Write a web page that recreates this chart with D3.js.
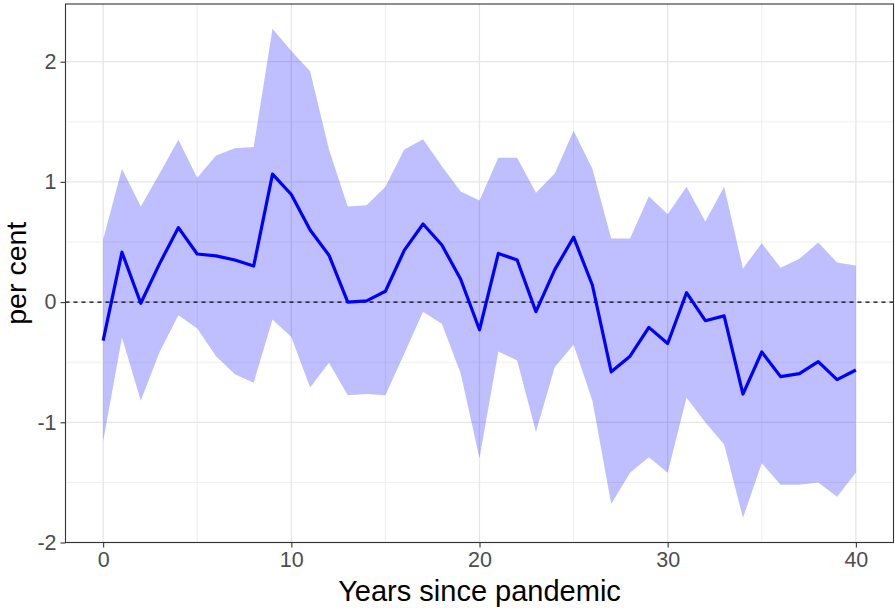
<!DOCTYPE html>
<html>
<head>
<meta charset="utf-8">
<script src="https://cdn.jsdelivr.net/npm/d3@7"></script>
<style>
  html, body { margin: 0; padding: 0; background: #fff; }
  svg { display: block; }
  text { font-family: "Liberation Sans", Arial, sans-serif; }
</style>
</head>
<body>
<svg id="chart" width="895" height="608"></svg>
<script>
const years = d3.range(0, 41);
const meanValues = [-0.32, 0.415, -0.01, 0.32, 0.62, 0.40, 0.385, 0.35, 0.30, 1.065,
  0.895, 0.60, 0.39, 0.0, 0.01, 0.09, 0.43, 0.65, 0.475, 0.19,
  -0.23, 0.405, 0.35, -0.08, 0.27, 0.54, 0.14, -0.58, -0.45, -0.21,
  -0.345, 0.078, -0.155, -0.115, -0.765, -0.415, -0.62, -0.595, -0.495, -0.645,
  -0.565];
const upperValues = [0.52, 1.11, 0.795, 1.07, 1.35, 1.035, 1.22, 1.28, 1.29, 2.275,
  2.09, 1.92, 1.27, 0.795, 0.805, 0.96, 1.27, 1.355, 1.13, 0.92,
  0.845, 1.20, 1.20, 0.91, 1.07, 1.425, 1.11, 0.53, 0.53, 0.88,
  0.73, 0.96, 0.67, 0.96, 0.28, 0.49, 0.285, 0.36, 0.495, 0.33,
  0.305];
const lowerValues = [-1.16, -0.295, -0.82, -0.415, -0.11, -0.22, -0.45, -0.60, -0.67, -0.145,
  -0.29, -0.71, -0.505, -0.775, -0.765, -0.775, -0.43, -0.08, -0.18, -0.595,
  -1.30, -0.41, -0.485, -1.08, -0.54, -0.355, -0.82, -1.68, -1.42, -1.29,
  -1.42, -0.795, -1.0, -1.185, -1.795, -1.34, -1.52, -1.52, -1.50, -1.62,
  -1.42];
const xTicks = [0, 10, 20, 30, 40];
const xMinor = [5, 15, 25, 35];
const yTicks = [-2, -1, 0, 1, 2];
const yMinor = [-1.5, -0.5, 0.5, 1.5];
const xTitle = "Years since pandemic";
const yTitle = "per cent";

const data = years.map((yr, i) => ({ year: yr, mean: meanValues[i], lo: lowerValues[i], hi: upperValues[i] }));

const svg = d3.select("#chart");
const pLeft = 65.5, pRight = 893.5, pTop = 4, pBottom = 542.5;

const x = d3.scaleLinear().domain([-2, 42]).range([pLeft, pRight]);
const y = d3.scaleLinear().domain([-2.0, 2.48]).range([pBottom, pTop]);

// panel grid
const g = svg.append("g");
g.selectAll(".xminor").data(xMinor).enter().append("line")
  .attr("x1", d => x(d)).attr("x2", d => x(d)).attr("y1", pTop).attr("y2", pBottom)
  .attr("stroke", "#ebebeb").attr("stroke-width", 0.8);
g.selectAll(".yminor").data(yMinor).enter().append("line")
  .attr("x1", pLeft).attr("x2", pRight).attr("y1", d => y(d)).attr("y2", d => y(d))
  .attr("stroke", "#ebebeb").attr("stroke-width", 0.8);
g.selectAll(".xmajor").data(xTicks).enter().append("line")
  .attr("x1", d => x(d)).attr("x2", d => x(d)).attr("y1", pTop).attr("y2", pBottom)
  .attr("stroke", "#e6e6e6").attr("stroke-width", 1.3);
g.selectAll(".ymajor").data(yTicks).enter().append("line")
  .attr("x1", pLeft).attr("x2", pRight).attr("y1", d => y(d)).attr("y2", d => y(d))
  .attr("stroke", "#e6e6e6").attr("stroke-width", 1.3);

// ribbon
const area = d3.area().x(d => x(d.year)).y0(d => y(d.lo)).y1(d => y(d.hi));
svg.append("path").datum(data).attr("d", area)
  .attr("fill", "blue").attr("fill-opacity", 0.25);

// zero dashed line
svg.append("line").attr("x1", pLeft).attr("x2", pRight).attr("y1", y(0)).attr("y2", y(0))
  .attr("stroke", "#000").attr("stroke-width", 1.1).attr("stroke-dasharray", "4,4");

// mean line
const line = d3.line().x(d => x(d.year)).y(d => y(d.mean));
svg.append("path").datum(data).attr("d", line)
  .attr("fill", "none").attr("stroke", "blue").attr("stroke-width", 3.2)
  .attr("stroke-linejoin", "round");

// panel border
svg.append("rect").attr("x", pLeft).attr("y", pTop).attr("width", pRight - pLeft).attr("height", pBottom - pTop)
  .attr("fill", "none").attr("stroke", "#333333").attr("stroke-width", 1.1);

// axes
const fmt = d => String(d);
const xAxis = d3.axisBottom(x).tickValues(xTicks).tickSize(5).tickPadding(4).tickFormat(fmt);
const xg = svg.append("g").attr("transform", `translate(0,${pBottom})`).call(xAxis);
xg.select(".domain").remove();
xg.selectAll("line").attr("stroke", "#333333").attr("stroke-width", 1.1);
xg.selectAll("text").attr("fill", "#4d4d4d").style("font-size", "21.5px")
  .style("font-family", "'Liberation Sans', Arial, sans-serif");

const yAxis = d3.axisLeft(y).tickValues(yTicks).tickSize(5).tickPadding(4).tickFormat(fmt);
const yg = svg.append("g").attr("transform", `translate(${pLeft},0)`).call(yAxis);
yg.select(".domain").remove();
yg.selectAll("line").attr("stroke", "#333333").attr("stroke-width", 1.1);
yg.selectAll("text").attr("fill", "#4d4d4d").style("font-size", "21.5px")
  .style("font-family", "'Liberation Sans', Arial, sans-serif");

// titles
svg.append("text").attr("x", (pLeft + pRight) / 2).attr("y", 601)
  .attr("text-anchor", "middle").attr("fill", "#000").style("font-size", "29px")
  .text(xTitle);
svg.append("text").attr("transform", `translate(26,${(pTop + pBottom) / 2}) rotate(-90)`)
  .attr("text-anchor", "middle").attr("fill", "#000").style("font-size", "28.5px")
  .text(yTitle);
</script>
</body>
</html>
